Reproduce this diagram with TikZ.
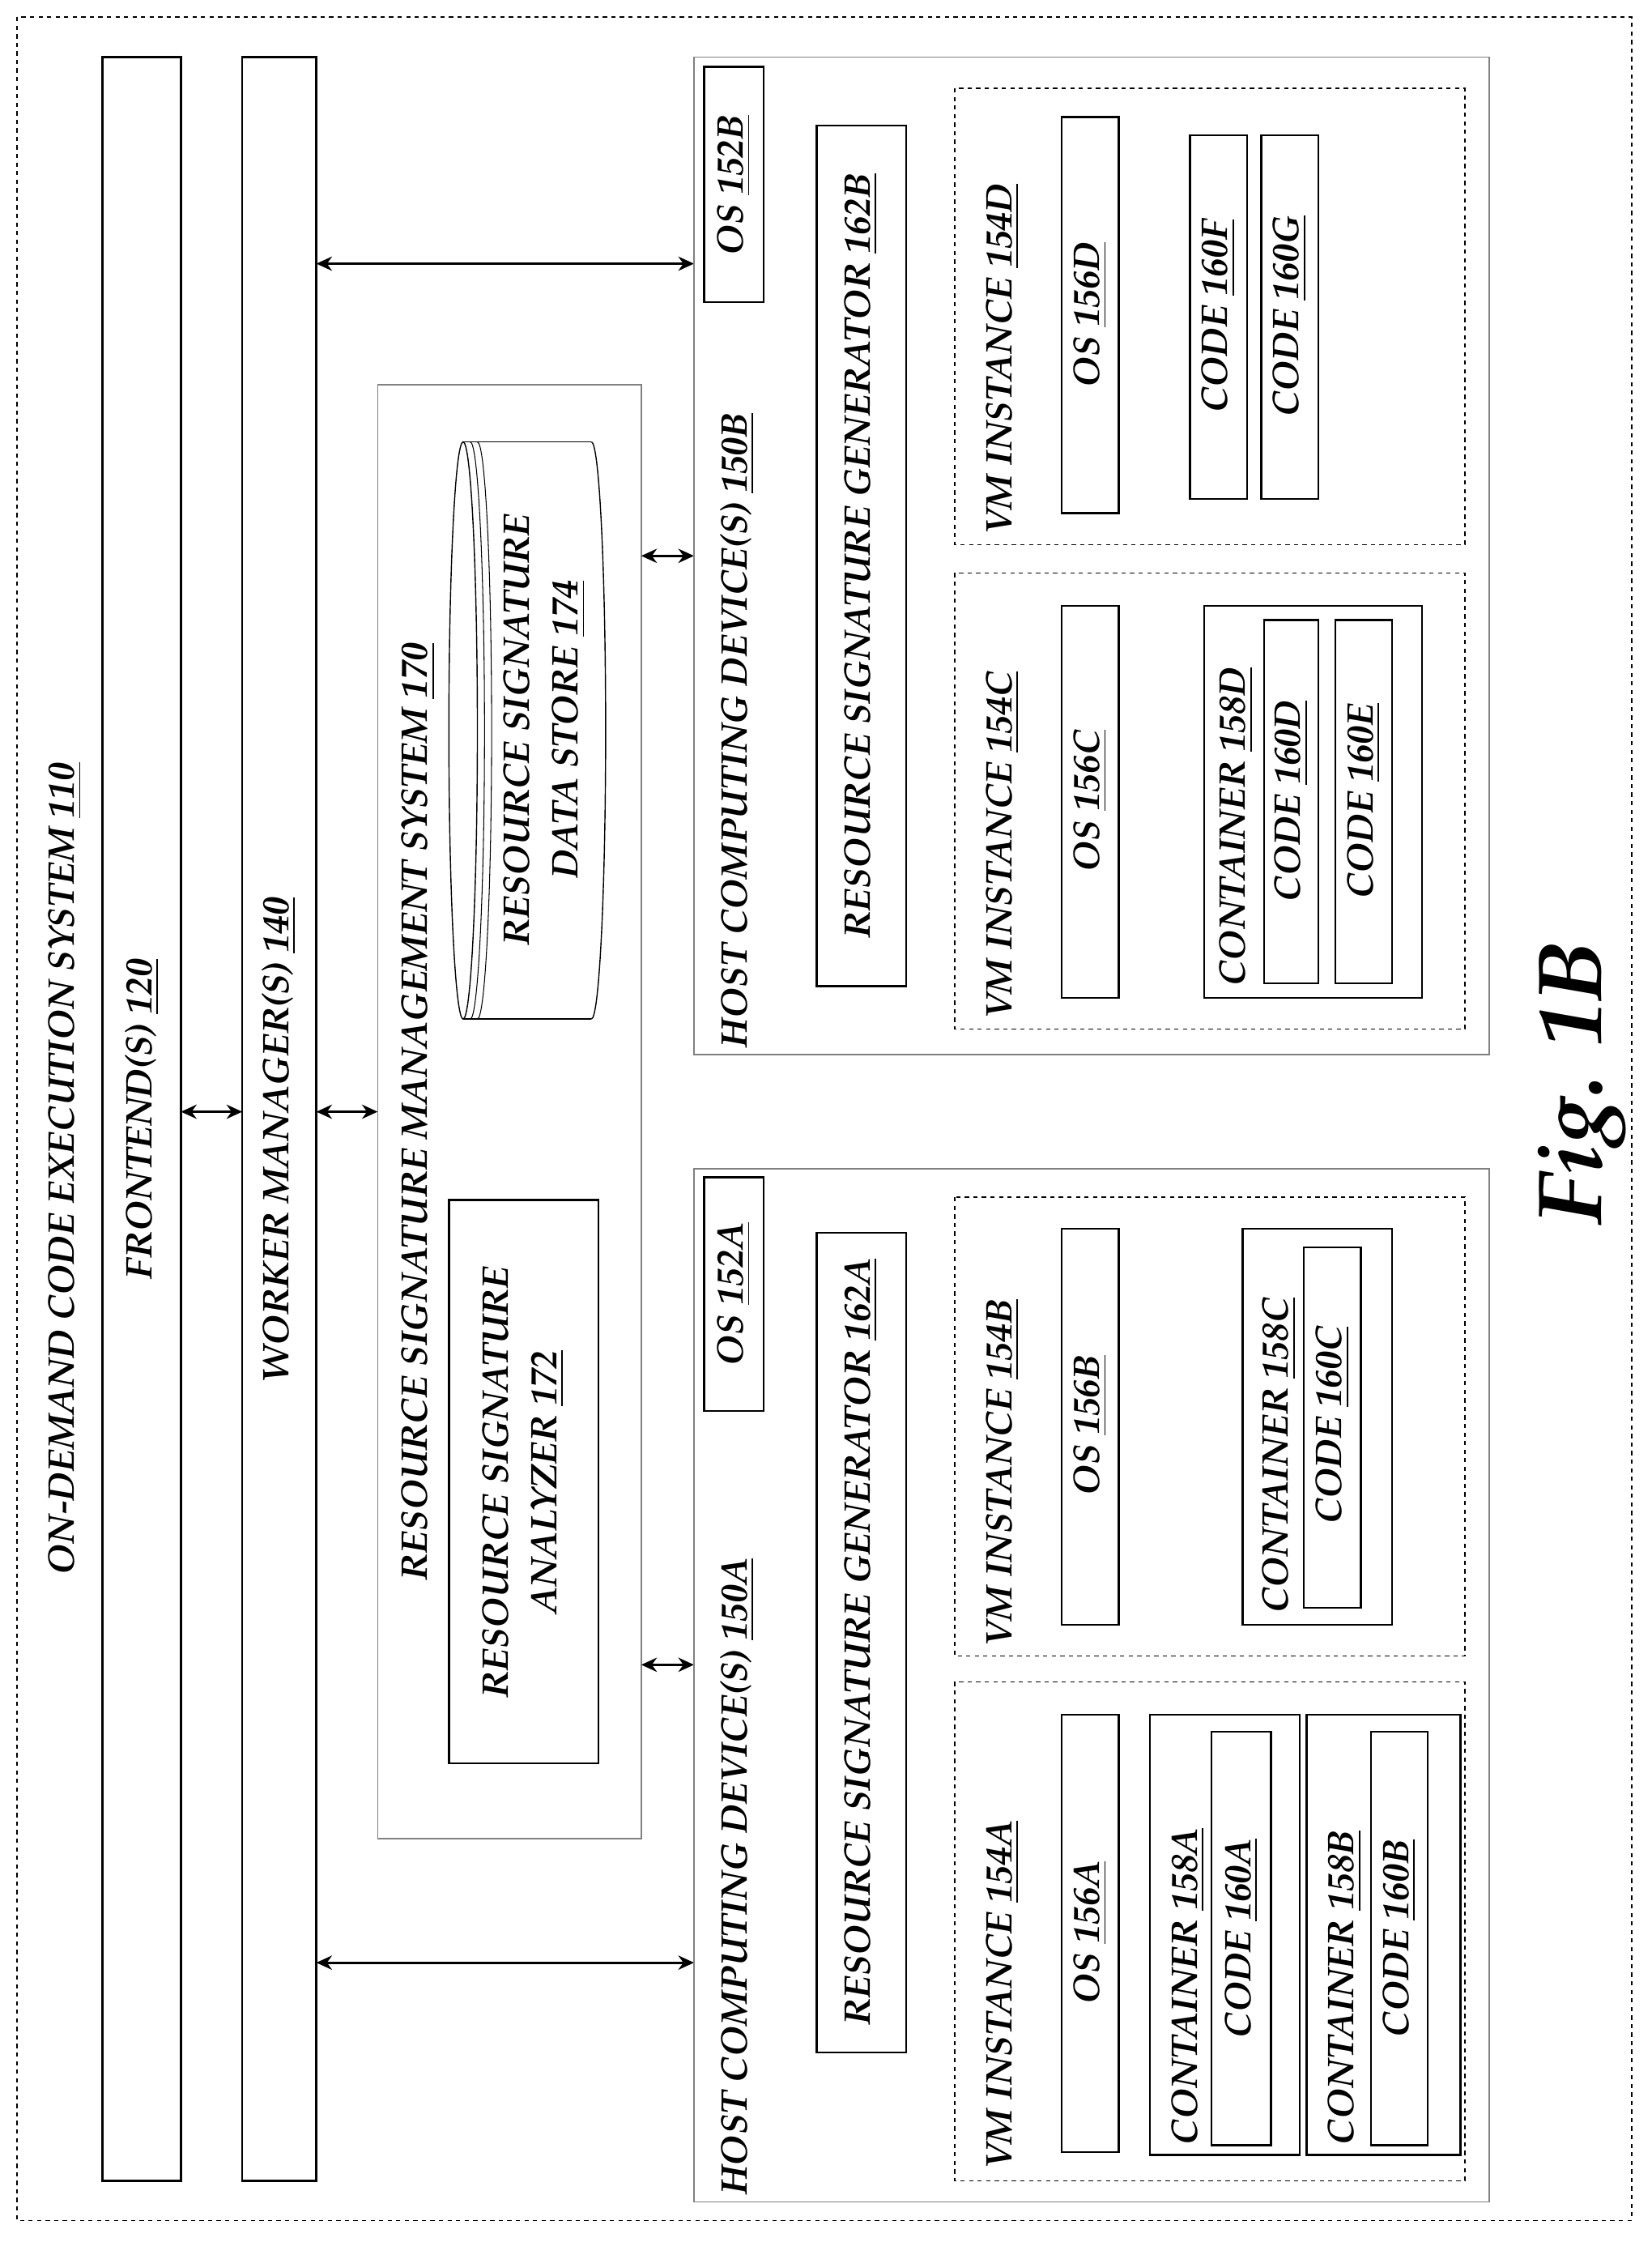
\documentclass[tikz,border=0pt]{standalone}
\usepackage[T1]{fontenc}
\usepackage{mathpazo}
\usetikzlibrary{arrows.meta}
\begin{document}
\begin{tikzpicture}[x=1pt,y=-1pt,
 bx/.style={draw,line width=1.4pt},
 gbx/.style={draw=gray,line width=0.8pt},
 dbx/.style={draw,dashed,line width=0.8pt},
 t/.style={rotate=90,font=\fontsize{26}{34}\selectfont\bfseries\itshape,align=center,inner sep=0pt},
 arr/.style={{Stealth[length=11pt,width=10pt]}-{Stealth[length=11pt,width=10pt]},line width=1.6pt}]
\useasboundingbox (0,0) rectangle (1159,1573);
\draw[dashed,line width=0.8pt] (12,12) rectangle (1145,1558);
\node[t,anchor=base] (title) at (52,820) {ON-DEMAND CODE EXECUTION SYSTEM \underline{110}};
\draw[bx] (72,40) rectangle (127,1530);
\node[t] (fe) at (100,785) {FRONTEND(S) \underline{120}};
\draw[bx] (170,40) rectangle (222,1530);
\node[t] (wm) at (196,800) {WORKER MANAGER(S) \underline{140}};
\coordinate (a1) at (127,780); \coordinate (a2) at (170,780);
\draw[arr] (a1) -- (a2);
\coordinate (b1) at (222,780); \coordinate (b2) at (265,780);
\draw[arr] (b1) -- (b2);
% RSMS
\draw[gbx] (265,270) rectangle (450,1290);
\node[t,anchor=base] (rsms) at (300,780) {RESOURCE SIGNATURE MANAGEMENT SYSTEM \underline{170}};
\draw[bx] (315,842) rectangle (420,1237);
\node[t] (rsa) at (367,1040) {RESOURCE SIGNATURE\\ANALYZER \underline{172}};
% cylinder
\draw[line width=0.8pt] (415,310) -- (325,310) (415,715) -- (325,715);
\draw[line width=0.8pt] (325,512.5) ellipse [x radius=10pt,y radius=202.5pt];
\draw[line width=0.6pt] (330,310) arc[start angle=90,end angle=-90,x radius=10pt,y radius=202.5pt];
\draw[line width=0.6pt] (335,310) arc[start angle=90,end angle=-90,x radius=10pt,y radius=202.5pt];
\draw[line width=0.8pt] (415,310) arc[start angle=90,end angle=-90,x radius=10pt,y radius=202.5pt];
\node[t] (ds) at (382,512) {RESOURCE SIGNATURE\\DATA STORE \underline{174}};
% arrows to hosts
\coordinate (c1) at (222,1377); \coordinate (c2) at (487,1377);
\draw[arr] (c1) -- (c2);
\coordinate (d1) at (222,185); \coordinate (d2) at (487,185);
\draw[arr] (d1) -- (d2);
\coordinate (e1) at (450,1168); \coordinate (e2) at (487,1168);
\draw[arr] (e1) -- (e2);
\coordinate (f1) at (450,390); \coordinate (f2) at (487,390);
\draw[arr] (f1) -- (f2);
% Host A
\draw[gbx] (487,820) rectangle (1045,1545);
\node[t,anchor=base west] (hA) at (524,1540) {HOST COMPUTING DEVICE(S) \underline{150A}};
\draw[bx] (494,826) rectangle (536,990);
\node[t] at (515,908) {OS \underline{152A}};
\draw[bx] (573,865) rectangle (636,1440);
\node[t] at (604,1152) {RESOURCE SIGNATURE GENERATOR \underline{162A}};
\draw[dbx] (670,1180) rectangle (1028,1530);
\node[t,anchor=base west] at (710,1522) {VM INSTANCE \underline{154A}};
\draw[bx] (745,1203) rectangle (785,1510);
\node[t] at (765,1356) {OS \underline{156A}};
\draw[bx] (807,1203) rectangle (912,1512);
\node[t,anchor=base west] at (840,1505) {CONTAINER \underline{158A}};
\draw[bx] (850,1215) rectangle (892,1505);
\node[t] at (871,1360) {CODE \underline{160A}};
\draw[bx] (917,1203) rectangle (1025,1512);
\node[t,anchor=base west] at (950,1505) {CONTAINER \underline{158B}};
\draw[bx] (962,1215) rectangle (1002,1505);
\node[t] at (982,1360) {CODE \underline{160B}};
\draw[dbx] (670,840) rectangle (1028,1162);
\node[t,anchor=base west] at (710,1155) {VM INSTANCE \underline{154B}};
\draw[bx] (745,862) rectangle (785,1140);
\node[t] at (765,1000) {OS \underline{156B}};
\draw[bx] (872,862) rectangle (977,1140);
\node[t,anchor=base west] at (904,1132) {CONTAINER \underline{158C}};
\draw[bx] (915,875) rectangle (955,1128);
\node[t] at (935,1000) {CODE \underline{160C}};
% Host B
\draw[gbx] (487,40) rectangle (1045,740);
\node[t,anchor=base west] (hB) at (524,735) {HOST COMPUTING DEVICE(S) \underline{150B}};
\draw[bx] (494,47) rectangle (536,212);
\node[t] at (515,130) {OS \underline{152B}};
\draw[bx] (573,88) rectangle (636,692);
\node[t] at (604,390) {RESOURCE SIGNATURE GENERATOR \underline{162B}};
\draw[dbx] (670,62) rectangle (1028,382);
\node[t,anchor=base west] at (710,375) {VM INSTANCE \underline{154D}};
\draw[bx] (745,82) rectangle (785,360);
\node[t] at (765,221) {OS \underline{156D}};
\draw[bx] (835,95) rectangle (875,350);
\node[t] at (855,222) {CODE \underline{160F}};
\draw[bx] (885,95) rectangle (925,350);
\node[t] at (905,222) {CODE \underline{160G}};
\draw[dbx] (670,402) rectangle (1028,722);
\node[t,anchor=base west] at (710,715) {VM INSTANCE \underline{154C}};
\draw[bx] (745,425) rectangle (785,700);
\node[t] at (765,562) {OS \underline{156C}};
\draw[bx] (845,425) rectangle (998,700);
\node[t,anchor=base west] at (874,692) {CONTAINER \underline{158D}};
\draw[bx] (887,435) rectangle (925,690);
\node[t] at (906,562) {CODE \underline{160D}};
\draw[bx] (937,435) rectangle (977,690);
\node[t] at (957,562) {CODE \underline{160E}};
\node[rotate=90,font=\fontsize{64}{64}\selectfont\bfseries\itshape] (fig) at (1110,760) {Fig. 1B};
\end{tikzpicture}
\end{document}
